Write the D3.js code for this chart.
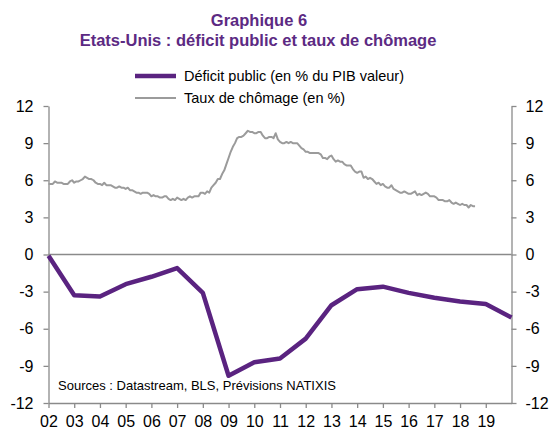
<!DOCTYPE html>
<html>
<head>
<meta charset="utf-8">
<script src="https://cdn.jsdelivr.net/npm/d3@7"></script>
<style>
  html, body { margin: 0; padding: 0; background: #fff; }
  svg { display: block; font-family: "Liberation Sans", Arial, sans-serif; }
</style>
</head>
<body>
<div id="chart"></div>
<script>
// Déficit public annuel (% du PIB), 2002 -> 2020
var annees  = [2002, 2003, 2004, 2005, 2006, 2007, 2008, 2009, 2010, 2011,
               2012, 2013, 2014, 2015, 2016, 2017, 2018, 2019, 2020];
var deficit = [-0.1, -3.3, -3.4, -2.4, -1.8, -1.1, -3.1, -9.8, -8.7, -8.4,
               -6.8, -4.1, -2.8, -2.6, -3.1, -3.5, -3.8, -4.0, -5.1];

// Taux de chômage mensuel (%), à partir de janvier 2002
var chomageDebut = 2002;
var chomage = [
  5.7, 5.7, 5.7, 5.9, 5.8, 5.8, 5.8, 5.7, 5.7, 5.7, 5.9, 6.0,
  5.8, 5.9, 5.9, 6.0, 6.1, 6.3, 6.2, 6.1, 6.1, 6.0, 5.8, 5.7,
  5.7, 5.6, 5.8, 5.6, 5.6, 5.6, 5.5, 5.4, 5.4, 5.5, 5.4, 5.4,
  5.3, 5.4, 5.2, 5.2, 5.1, 5.0, 5.0, 4.9, 5.0, 5.0, 5.0, 4.9,
  4.7, 4.8, 4.7, 4.7, 4.6, 4.6, 4.7, 4.7, 4.5, 4.4, 4.5, 4.4,
  4.6, 4.5, 4.4, 4.5, 4.4, 4.6, 4.7, 4.6, 4.7, 4.7, 4.7, 5.0,
  5.0, 4.9, 5.1, 5.0, 5.4, 5.6, 5.8, 6.1, 6.1, 6.5, 6.8, 7.3,
  7.8, 8.3, 8.7, 9.0, 9.4, 9.5, 9.5, 9.6, 9.8, 10.0, 9.9, 9.9,
  9.8, 9.8, 9.9, 9.9, 9.6, 9.4, 9.4, 9.5, 9.5, 9.4, 9.8, 9.3,
  9.1, 9.0, 9.0, 9.1, 9.0, 9.1, 9.0, 9.0, 9.0, 8.8, 8.6, 8.5,
  8.3, 8.3, 8.2, 8.2, 8.2, 8.2, 8.2, 8.1, 7.8, 7.8, 7.7, 7.9,
  8.0, 7.7, 7.5, 7.6, 7.5, 7.5, 7.3, 7.2, 7.2, 7.2, 6.9, 6.7,
  6.6, 6.7, 6.7, 6.2, 6.3, 6.1, 6.2, 6.1, 5.9, 5.7, 5.8, 5.6,
  5.7, 5.5, 5.4, 5.4, 5.6, 5.3, 5.2, 5.1, 5.0, 5.0, 5.1, 5.0,
  4.9, 4.9, 5.0, 5.1, 4.8, 4.9, 4.8, 4.9, 5.0, 4.9, 4.7, 4.7,
  4.7, 4.6, 4.4, 4.4, 4.4, 4.3, 4.3, 4.4, 4.2, 4.1, 4.2, 4.1,
  4.0, 4.1, 4.0, 4.0, 3.8, 4.0, 3.9, 3.9
];

// Graduations
var ticksY = [-12, -9, -6, -3, 0, 3, 6, 9, 12];
var ticksX = [2002, 2003, 2004, 2005, 2006, 2007, 2008, 2009, 2010, 2011,
              2012, 2013, 2014, 2015, 2016, 2017, 2018, 2019];

var chart = {

  config: {
    width:     553,
    height:    430,
    left:      48.5,   // axe de gauche
    right:     511.5,  // axe de droite
    top:       106,    // graduation 12
    bottom:    403,    // graduation -12
    purple:    '#5a2380',
    titleCol:  '#5c2a83',
    grey:      '#9b9b9b',
    axisCol:   '#8a8a8a'
  },

  display: function(el) {
    this.svg = d3.select(el).append('svg')
                 .attr('width', this.config.width)
                 .attr('height', this.config.height);

    this.createScales();
    this.createTitle();
    this.createLegend();
    this.createAxes();
    this.createLines();
  },

  createScales: function() {
    var c = this.config;
    this.x = d3.scaleLinear().domain([2002, 2020]).range([c.left, c.right]);
    this.y = d3.scaleLinear().domain([-12, 12]).range([c.bottom, c.top]);
  },

  createTitle: function() {
    var t = this.svg.append('g')
                    .attr('fill', this.config.titleCol)
                    .attr('font-weight', 'bold')
                    .attr('font-size', '16.5px')
                    .attr('text-anchor', 'middle');
    t.append('text').attr('x', 259).attr('y', 26).text('Graphique 6');
    t.append('text').attr('x', 258).attr('y', 45.5).text('Etats-Unis : déficit public et taux de chômage');
  },

  createLegend: function() {
    var c = this.config;
    var items = [
      { label: 'Déficit public (en % du PIB valeur)', color: c.purple, w: 4.5, y: 76 },
      { label: 'Taux de chômage (en %)',              color: c.grey,   w: 2,   y: 98 }
    ];
    var g = this.svg.append('g').selectAll('g').data(items).enter().append('g');
    g.append('line')
     .attr('x1', 135).attr('x2', 176)
     .attr('y1', (d) => d.y).attr('y2', (d) => d.y)
     .attr('stroke', (d) => d.color)
     .attr('stroke-width', (d) => d.w);
    g.append('text')
     .attr('x', 184).attr('y', (d) => d.y + 5)
     .attr('font-size', '14.5px')
     .attr('fill', '#000')
     .text((d) => d.label);
  },

  createAxes: function() {
    var c = this.config;
    var fmtX = (d) => String(d).slice(2);
    var fmtY = (d) => String(d);   // trait d'union simple, comme l'original

    var left = this.svg.append('g')
      .attr('transform', 'translate(' + c.left + ',0)')
      .call(d3.axisLeft(this.y).tickValues(ticksY).tickFormat(fmtY).tickSize(5).tickPadding(10).tickSizeOuter(0));

    var right = this.svg.append('g')
      .attr('transform', 'translate(' + c.right + ',0)')
      .call(d3.axisRight(this.y).tickValues(ticksY).tickFormat(fmtY).tickSize(5).tickPadding(9).tickSizeOuter(0));

    var bottom = this.svg.append('g')
      .attr('transform', 'translate(0,' + c.bottom + ')')
      .call(d3.axisBottom(this.x).tickValues(ticksX).tickFormat(fmtX).tickSize(5).tickPadding(8).tickSizeOuter(0));

    [left, right, bottom].forEach(function(a) {
      a.select('.domain').attr('stroke', c.axisCol).attr('stroke-width', 1.3);
      a.selectAll('.tick line').attr('stroke', c.axisCol).attr('stroke-width', 1.3);
      a.selectAll('.tick text')
       .attr('fill', '#000')
       .attr('font-size', '16px')
       .attr('font-family', '"Liberation Sans", Arial, sans-serif');
    });
    right.selectAll('.tick text').attr('text-anchor', 'start');

    // ligne du zéro
    this.svg.append('line')
      .attr('x1', c.left).attr('x2', c.right)
      .attr('y1', this.y(0)).attr('y2', this.y(0))
      .attr('stroke', c.axisCol).attr('stroke-width', 1.3);

    // source
    this.svg.append('text')
      .attr('x', 58).attr('y', 390)
      .attr('font-size', '13px')
      .attr('fill', '#000')
      .text('Sources : Datastream, BLS, Prévisions NATIXIS');
  },

  createLines: function() {
    var c = this.config;

    var lineCho = d3.line()
      .x((d, i) => this.x(chomageDebut + i / 12))
      .y((d) => this.y(d));
    this.svg.append('path')
      .datum(chomage)
      .attr('d', lineCho)
      .attr('fill', 'none')
      .attr('stroke', c.grey)
      .attr('stroke-width', 2)
      .attr('stroke-linejoin', 'round');

    var lineDef = d3.line()
      .x((d, i) => this.x(annees[i]))
      .y((d) => this.y(d));
    this.svg.append('path')
      .datum(deficit)
      .attr('d', lineDef)
      .attr('fill', 'none')
      .attr('stroke', c.purple)
      .attr('stroke-width', 4.5)
      .attr('stroke-linejoin', 'round');
  }

};

chart.display('#chart');
</script>
</body>
</html>
